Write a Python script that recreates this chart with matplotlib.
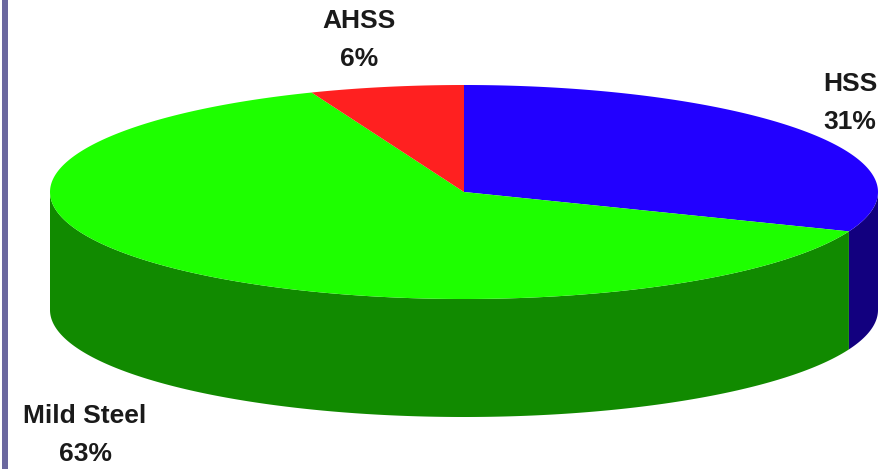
import numpy as np
import matplotlib
matplotlib.use("Agg")
import matplotlib.pyplot as plt

categories = ["HSS", "Mild Steel", "AHSS"]
values = [31, 63, 6]
top_colors = ["#2200ff", "#1eff00", "#ff2020"]
side_colors = ["#12007f", "#118a00", "#8a1010"]
label_xy = [(850, 103), (85, 435), (359, 40)]

W, H = 885, 469
cx, cy, rx, ry, depth = 464, 192, 414, 107, 118

fig = plt.figure(figsize=(W / 100, H / 100), dpi=100)
ax = fig.add_axes([0, 0, 1, 1])
ax.set_xlim(0, W)
ax.set_ylim(H, 0)
ax.axis("off")

ax.fill([2, 8, 8, 2], [0, 0, H, H], color="#6b689f", lw=0, zorder=1)

def ell(t):
    return cx + rx * np.sin(t), cy - ry * np.cos(t)

edges = np.cumsum([0] + values) / sum(values) * 2 * np.pi
for i, (a, b) in enumerate(zip(edges[:-1], edges[1:])):
    lo, hi = max(a, np.pi / 2), min(b, 3 * np.pi / 2)
    if lo < hi:
        t = np.linspace(lo, hi, 200)
        x, y = ell(t)
        ax.fill(np.r_[x, x[::-1]], np.r_[y, y[::-1] + depth],
                color=side_colors[i], lw=0, zorder=2)
for i, (a, b) in enumerate(zip(edges[:-1], edges[1:])):
    t = np.linspace(a, b, 300)
    x, y = ell(t)
    ax.fill(np.r_[cx, x], np.r_[cy, y], color=top_colors[i], lw=0, zorder=3)

for name, v, (lx, ly) in zip(categories, values, label_xy):
    ax.text(lx, ly, f"{name}\n{v}%", ha="center", va="center", fontsize=19,
            fontweight="bold", family="Liberation Sans", color="#1a1a1a",
            linespacing=1.75, zorder=4)

fig.savefig("out.png", dpi=100)
